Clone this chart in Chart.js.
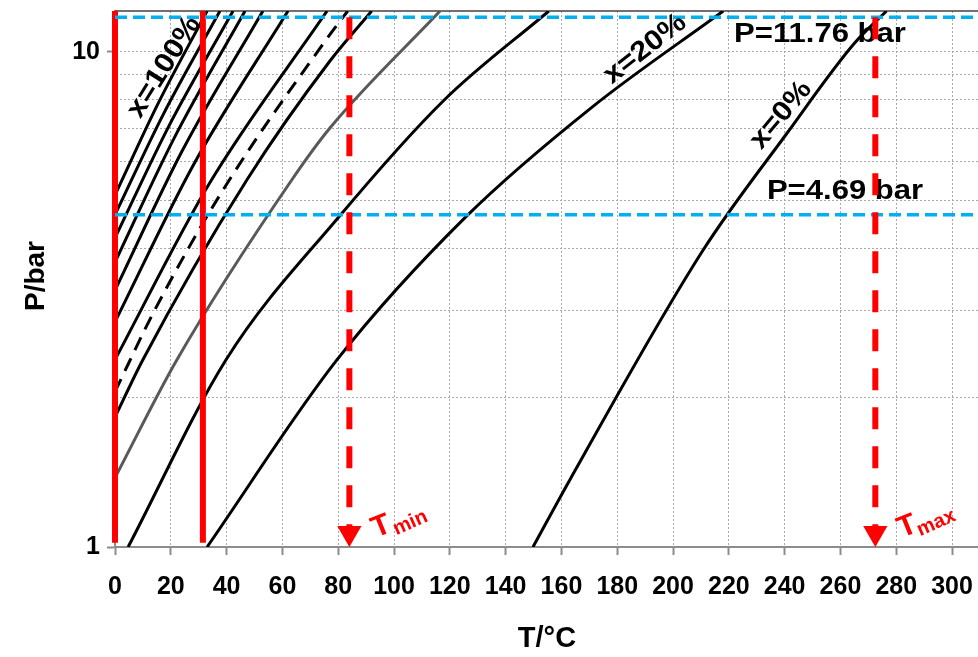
<!DOCTYPE html>
<html>
<head>
<meta charset="utf-8">
<script src="https://cdn.jsdelivr.net/npm/chart.js@4.4.1/dist/chart.umd.min.js"></script>
<style>
  html, body { margin: 0; padding: 0; background: #fff; }
</style>
</head>
<body>
<canvas id="ptChart" width="978" height="657"></canvas>
<script>
// isostere curves: temperature (°C) and pressure (bar), left to right
const curveT = [
  [0, 15.6, 33],                          // x=100%
  [0, 17.4, 37.6],
  [0, 19.4, 42.3],
  [0, 21.2, 46.6],
  [0, 24.0, 53],
  [0, 28.0, 62],
  [0, 33.6, 76],
  [0, 14.1, 38.7, 77, 83.4],              // dashed one
  [0, 10, 47.3, 77.1, 92],
  [0, 22.2, 63.4, 77.1, 116.5],           // gray one
  [4.7, 39.8, 79.9, 118, 155.5],
  [33, 79.6, 126, 171, 218],              // x=20%
  [149.8, 163, 210.8, 240.9, 265, 276.5]  // x=0%
];
const curveP = [
  [5.14, 7.9, 12.1],
  [4.69, 7.5, 12.1],
  [4.21, 7.1, 12.1],
  [3.76, 6.7, 12.1],
  [3.30, 6.3, 12.1],
  [2.85, 5.9, 12.1],
  [2.39, 5.4, 12.1],
  [2.06, 3, 5.26, 10.84, 12.1],
  [1.83, 2.39, 5.52, 9.6, 12.1],
  [1.38, 2.39, 5.52, 7.03, 12.1],
  [1, 2.39, 4.62, 8, 12.1],
  [1, 2.39, 4.66, 7.74, 12.1],
  [1, 1.366, 3.98, 6.86, 10.41, 12.1]
];

// red vertical lines (°C) and their pressure span
const redLineT = [0, 31.5];
const redLineP = [1.02, 12.1];

// working pressures (bar), blue dashed
const pressureLevels = [11.76, 4.69];

// T min / T max arrows (°C)
const arrowT = [84, 272.5];
const arrowSub = ['min', 'max'];
const arrowP = [11.76, 1.1, 1.067];   // shaft top, shaft end, arrow head

// axes
const tTicks = [0, 20, 40, 60, 80, 100, 120, 140, 160, 180, 200, 220, 240, 260, 280, 300];
const pTicks = [1, 2, 3, 4, 5, 6, 7, 8, 9, 10];
const pLabels = [1, 10];
const tMax = 309.3;
const pMax = 12.1;

// styles kept apart from the data
const curveKind = ['solid', 'solid', 'solid', 'solid', 'solid', 'solid', 'solid',
  'dash', 'solid', 'gray', 'solid', 'solid', 'solid'];

const FONT = '"Liberation Sans", Arial, sans-serif';
const RED = '#ff0000';
const BLUE = '#00b0f0';

function toPoints(ts, ps) {
  return ts.map((t, i) => ({ x: t, y: ps[i] }));
}

const datasets = [];

curveT.forEach((ts, i) => {
  const kind = curveKind[i];
  datasets.push({
    data: toPoints(ts, curveP[i]),
    borderColor: kind === 'gray' ? '#595959' : '#000',
    borderWidth: 3,
    borderDash: kind === 'dash' ? [14, 9] : [],
    cubicInterpolationMode: 'monotone',
    pointRadius: 0,
    order: 4
  });
});

redLineT.forEach(t => {
  datasets.push({
    data: [{ x: t, y: redLineP[0] }, { x: t, y: redLineP[1] }],
    borderColor: RED,
    borderWidth: 6,
    pointRadius: 0,
    clip: false,
    order: 3
  });
});

pressureLevels.forEach(p => {
  datasets.push({
    data: [{ x: 0, y: p }, { x: tMax, y: p }],
    borderColor: BLUE,
    borderWidth: 3.5,
    borderDash: [12, 6],
    pointRadius: 0,
    order: 2
  });
});

arrowT.forEach(t => {
  datasets.push({
    role: 'arrow',
    data: [{ x: t, y: arrowP[0] }, { x: t, y: arrowP[1] }],
    borderColor: RED,
    borderWidth: 6,
    borderDash: [22, 17],
    pointRadius: 0,
    order: 1
  });
  datasets.push({
    role: 'arrow',
    data: [{ x: t, y: arrowP[2] }],
    showLine: false,
    pointStyle: 'triangle',
    rotation: 180,
    pointRadius: 14,
    pointBorderWidth: 0,
    pointBackgroundColor: RED,
    order: 1
  });
});

// text on the picture (pixel positions)
const textLabels = [
  { text: 'P=11.76 bar', x: 820, y: 35, angle: 0, size: 27, stretch: 1.15, color: '#000' },
  { text: 'P=4.69 bar', x: 845, y: 192, angle: 0, size: 27, stretch: 1.15, color: '#000' },
  { text: 'x=100%', x: 164, y: 67, angle: -58, size: 28, stretch: 1.1, color: '#000' },
  { text: 'x=20%', x: 645, y: 49, angle: -38, size: 28, stretch: 1.1, color: '#000' },
  { text: 'x=0%', x: 781, y: 115, angle: -50, size: 28, stretch: 1.1, color: '#000' },
  { text: 'T/°C', x: 547, y: 639, angle: 0, size: 29, stretch: 1, color: '#000' },
  { text: 'P/bar', x: 36, y: 276, angle: -90, size: 28, stretch: 1, color: '#000' }
];

function drawText(ctx, l) {
  ctx.save();
  ctx.translate(l.x, l.y);
  ctx.rotate(l.angle * Math.PI / 180);
  ctx.scale(l.stretch, 1);
  ctx.font = 'bold ' + l.size + 'px ' + FONT;
  ctx.fillStyle = l.color;
  ctx.textAlign = 'center';
  ctx.textBaseline = 'middle';
  ctx.fillText(l.text, 0, 0);
  ctx.restore();
}

let textDone = false;

const decorPlugin = {
  id: 'decor',
  beforeDatasetsDraw(chart) {
    const { ctx, chartArea } = chart;
    textDone = false;
    ctx.save();
    ctx.strokeStyle = '#404040';
    ctx.lineWidth = 1.5;
    ctx.beginPath();
    ctx.moveTo(chartArea.left, chartArea.top);
    ctx.lineTo(chartArea.right, chartArea.top);
    ctx.stroke();
    ctx.restore();
  },
  beforeDatasetDraw(chart, args) {
    if (textDone || chart.data.datasets[args.index].role !== 'arrow') return;
    textDone = true;
    textLabels.forEach(l => drawText(chart.ctx, l));
  },
  afterDatasetsDraw(chart) {
    const { ctx, scales } = chart;
    arrowT.forEach((t, i) => {
      const px = scales.x.getPixelForValue(t);
      const py = scales.y.getPixelForValue(1);
      drawText(ctx, { text: 'T', x: px + 32, y: py - 20, angle: -22, size: 30, stretch: 1, color: RED });
      drawText(ctx, { text: arrowSub[i], x: px + 61, y: py - 24, angle: -24, size: 20, stretch: 1, color: RED });
    });
  }
};

const tickFont = { family: FONT, size: 25, weight: 'bold' };

new Chart(document.getElementById('ptChart'), {
  type: 'line',
  data: { datasets },
  options: {
    responsive: false,
    animation: false,
    devicePixelRatio: 1,
    layout: { autoPadding: false, padding: { top: 11, right: 0, bottom: 0, left: 0 } },
    plugins: { legend: { display: false }, tooltip: { enabled: false } },
    scales: {
      x: {
        type: 'linear',
        min: 0,
        max: tMax,
        afterFit: s => { s.height = 110; s.paddingLeft = 0; s.paddingRight = 0; },
        afterBuildTicks: s => { s.ticks = tTicks.map(v => ({ value: v })); },
        ticks: { font: tickFont, color: '#000', padding: 17, maxRotation: 0, autoSkip: false },
        grid: { color: '#a8a8a8', lineWidth: 1, tickColor: '#8c8c8c', tickLength: 8, tickWidth: 2 },
        border: { color: '#8c8c8c', width: 2, dash: [2, 2] }
      },
      y: {
        type: 'logarithmic',
        min: 1,
        max: pMax,
        afterFit: s => { s.width = 115; s.paddingTop = 0; s.paddingBottom = 0; },
        afterBuildTicks: s => { s.ticks = pTicks.map(v => ({ value: v })); },
        ticks: {
          font: tickFont,
          color: '#000',
          padding: 7,
          autoSkip: false,
          callback: v => (pLabels.includes(v) ? String(v) : '')
        },
        grid: {
          color: c => (c.tick && c.tick.value === 1 ? 'rgba(0,0,0,0)' : '#a8a8a8'),
          lineWidth: 1,
          tickColor: c => (c.tick && pLabels.includes(c.tick.value) ? '#8c8c8c' : 'rgba(0,0,0,0)'),
          tickLength: 8,
          tickWidth: 2
        },
        border: { color: '#8c8c8c', width: 2, dash: [2, 2] }
      }
    }
  },
  plugins: [decorPlugin]
});
</script>
</body>
</html>
